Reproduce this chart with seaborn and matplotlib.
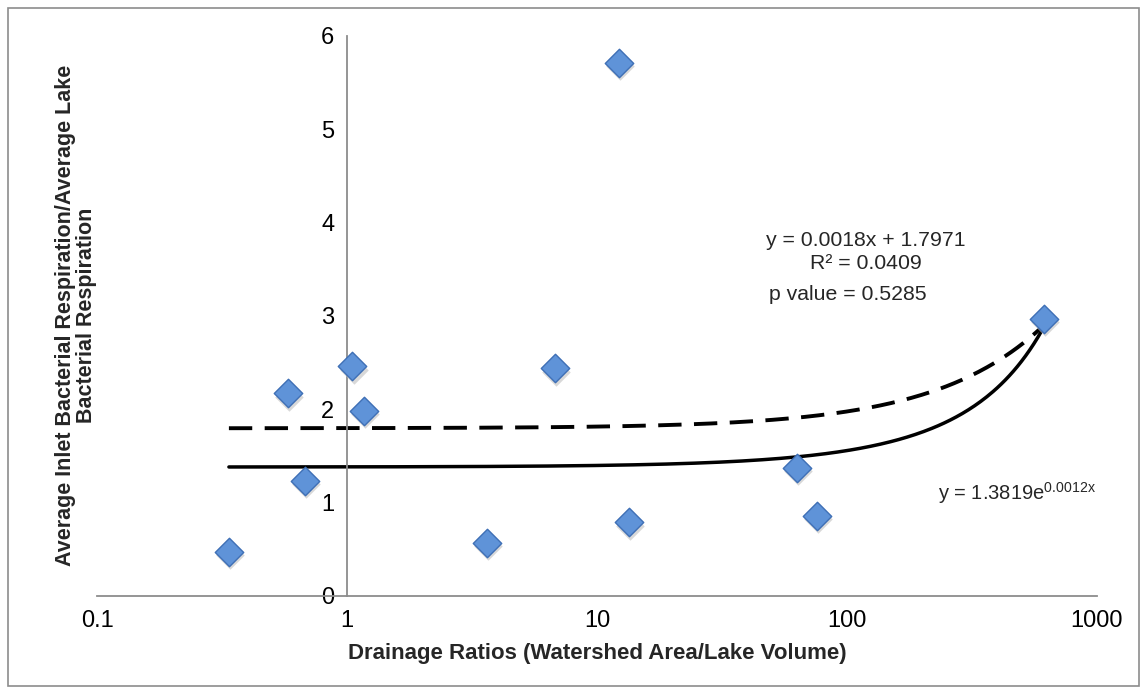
import numpy as np
import pandas as pd
import matplotlib.pyplot as plt
import seaborn as sns
from matplotlib.patches import Rectangle

# Drainage ratio vs. respiration ratio
drainage = [0.337, 0.58, 0.68, 1.05, 1.17, 3.63, 6.79, 12.2, 13.4, 63.0, 75.9, 614.0]
resp_ratio = [0.47, 2.17, 1.23, 2.46, 1.98, 0.57, 2.44, 5.71, 0.79, 1.37, 0.86, 2.97]

# Trendline coefficients as printed on the chart
lin_slope, lin_icpt = 0.0018, 1.7971
exp_a, exp_b = 1.3819, 0.0012

y_ticks = [0, 1, 2, 3, 4, 5, 6]
x_ticks = [0.1, 1, 10, 100, 1000]
x_tick_labels = ['0.1', '1', '10', '100', '1000']

df = pd.DataFrame({'drainage': drainage, 'ratio': resp_ratio})

sns.set_style('white')
plt.rcParams['font.family'] = ['Liberation Sans', 'DejaVu Sans']

fig = plt.figure(figsize=(11.47, 6.94), dpi=100)
ax = fig.add_axes([97 / 1147, 98 / 694, 1000 / 1147, 560 / 694])

# outer chart border
fig.patches.append(Rectangle((8 / 1147, 8 / 694), 1131 / 1147, 678 / 694,
                             transform=fig.transFigure, fill=False,
                             edgecolor='#8c8c8c', linewidth=1.2))

xs = np.logspace(np.log10(min(drainage)), np.log10(max(drainage)), 400)
trend = pd.DataFrame({'x': xs,
                      'lin': lin_slope * xs + lin_icpt,
                      'exp': exp_a * np.exp(exp_b * xs)})
sns.lineplot(data=trend, x='x', y='lin', ax=ax, color='black', lw=2.8,
             dashes=(6, 3.2), zorder=2)
sns.lineplot(data=trend, x='x', y='exp', ax=ax, color='black', lw=2.5, zorder=2)

# shadow then diamonds
ax.scatter(df['drainage'] * 1.012, df['ratio'] - 0.035, marker='D', s=210,
           color='#bfbfbf', alpha=0.6, linewidths=0, zorder=3)
sns.scatterplot(data=df, x='drainage', y='ratio', ax=ax, marker='D', s=210,
                color='#5f93d8', edgecolor='#3e6fb5', linewidth=1, zorder=4)

ax.set_xscale('log')
ax.set_xlim(0.1, 1000)
ax.set_ylim(0, 6)
ax.set_xticks(x_ticks)
ax.set_xticklabels(x_tick_labels)
ax.set_yticks(y_ticks)
ax.minorticks_off()

for s in ['top', 'right']:
    ax.spines[s].set_visible(False)
ax.spines['left'].set_position(('data', 1))
for s in ['left', 'bottom']:
    ax.spines[s].set_color('#8c8c8c')
    ax.spines[s].set_linewidth(1.3)
ax.tick_params(axis='both', direction='out', length=4, width=1.2,
               color='#8c8c8c', labelsize=17, labelcolor='black')
ax.tick_params(axis='x', pad=6)
ax.tick_params(axis='y', pad=5)

ax.set_xlabel('Drainage Ratios (Watershed Area/Lake Volume)', fontsize=16,
              fontweight='bold', labelpad=8)
ax.set_ylabel('')
fig.text(76 / 1147, 0.545, 'Average Inlet Bacterial Respiration/Average Lake\nBacterial Respiration',
         rotation=90, ha='center', va='center', fontsize=15.5, fontweight='bold',
         linespacing=1.05)

ax.text(0.769, 0.634, 'y = 0.0018x + 1.7971', transform=ax.transAxes,
        ha='center', va='center', fontsize=15.3)
ax.text(0.769, 0.593, 'R² = 0.0409', transform=ax.transAxes,
        ha='center', va='center', fontsize=15.3)
ax.text(0.751, 0.539, 'p value = 0.5285', transform=ax.transAxes,
        ha='center', va='center', fontsize=15.3)
ax.text(0.92, 0.184, r'y = 1.3819e$^{\mathregular{0.0012x}}$', transform=ax.transAxes,
        ha='center', va='center', fontsize=14.5)

fig.savefig('out.png', dpi=100)
